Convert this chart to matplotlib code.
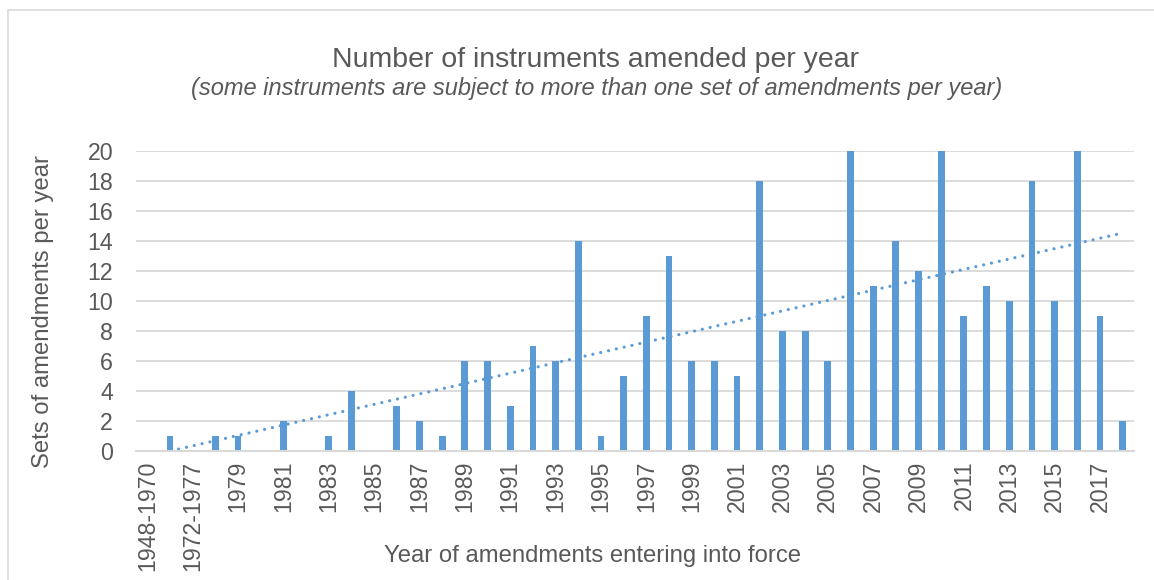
import numpy as np
import matplotlib
matplotlib.use("Agg")
import matplotlib.pyplot as plt
from matplotlib.patches import Rectangle

plt.rcParams["font.family"] = ["Liberation Sans", "DejaVu Sans"]

# Year groups (first two are multi-year spans)
categories = ["1948-1970", "1971", "1972-1977", "1978"] + [str(y) for y in range(1979, 2019)]

# Sets of amendments entering into force per category
amendments = [
    0, 1, 0, 1,            # 1948-1970 .. 1978
    1, 0, 2, 0, 1,         # 1979-1983
    4, 0, 3, 2, 1,         # 1984-1988
    6, 6, 3, 7, 6,         # 1989-1993
    14, 1, 5, 9, 13,       # 1994-1998
    6, 6, 5, 18, 8,        # 1999-2003
    8, 6, 21, 11, 14,      # 2004-2008
    12, 21, 9, 11, 10,     # 2009-2013
    18, 10, 21, 9, 2,      # 2014-2018
]

title = "Number of instruments amended per year"
subtitle = "(some instruments are subject to more than one set of amendments per year)"
xlabel = "Year of amendments entering into force"
ylabel = "Sets of amendments per year"

BAR = "#5B9BD5"
TEXT = "#595959"
GRID = "#D9D9D9"

W, H = 1154, 580
fig = plt.figure(figsize=(W / 100, H / 100), dpi=100)
fig.patch.set_facecolor("white")

# chart border
fig.patches.append(Rectangle((8 / W, -0.1), 1.2, (H - 10) / H + 0.1,
                             transform=fig.transFigure, fill=False,
                             edgecolor=GRID, linewidth=1.2))

left, right, top, bottom = 136, 1134, 151, 451
ax = fig.add_axes([left / W, 1 - bottom / H, (right - left) / W, (bottom - top) / H])

x = np.arange(len(categories))
y = np.array(amendments, dtype=float)
ax.bar(x, y, width=0.3, color=BAR, zorder=3)

# linear trend
k, b = np.polyfit(x, y, 1)
ax.plot(x, k * x + b, linestyle=(0, (0.01, 2.5)), color=BAR, linewidth=2.3,
        dash_capstyle="round", zorder=4)

ax.set_xlim(-0.5, len(categories) - 0.5)
ax.set_ylim(0, 20)
ax.set_yticks(range(0, 21, 2))
ax.yaxis.grid(True, color=GRID, linewidth=1.3, zorder=0)
ax.set_axisbelow(True)

for s in ["top", "right", "left"]:
    ax.spines[s].set_visible(False)
ax.spines["bottom"].set_color(GRID)
ax.spines["bottom"].set_linewidth(1.5)
ax.spines["bottom"].set_zorder(5)

ax.set_xticks(x[::2])
ax.set_xticklabels(categories[::2], rotation=90, fontsize=16.7, color=TEXT)
ax.tick_params(axis="x", length=0, pad=7)
ax.tick_params(axis="y", length=0, pad=16.5, labelsize=16.7, labelcolor=TEXT)

fig.text(595 / W, 1 - 60 / H, title, ha="center", va="center", fontsize=20.5, color=TEXT)
fig.text(597 / W, 1 - 88 / H, subtitle, ha="center", va="center", fontsize=17,
         style="italic", color=TEXT)
fig.text(593 / W, 1 - 556 / H, xlabel, ha="center", va="center", fontsize=17.2, color=TEXT)
fig.text(43 / W, 1 - 311 / H, ylabel, ha="center", va="center", rotation=90,
         fontsize=17.2, color=TEXT)

fig.savefig("out.png", dpi=100, facecolor="white")
